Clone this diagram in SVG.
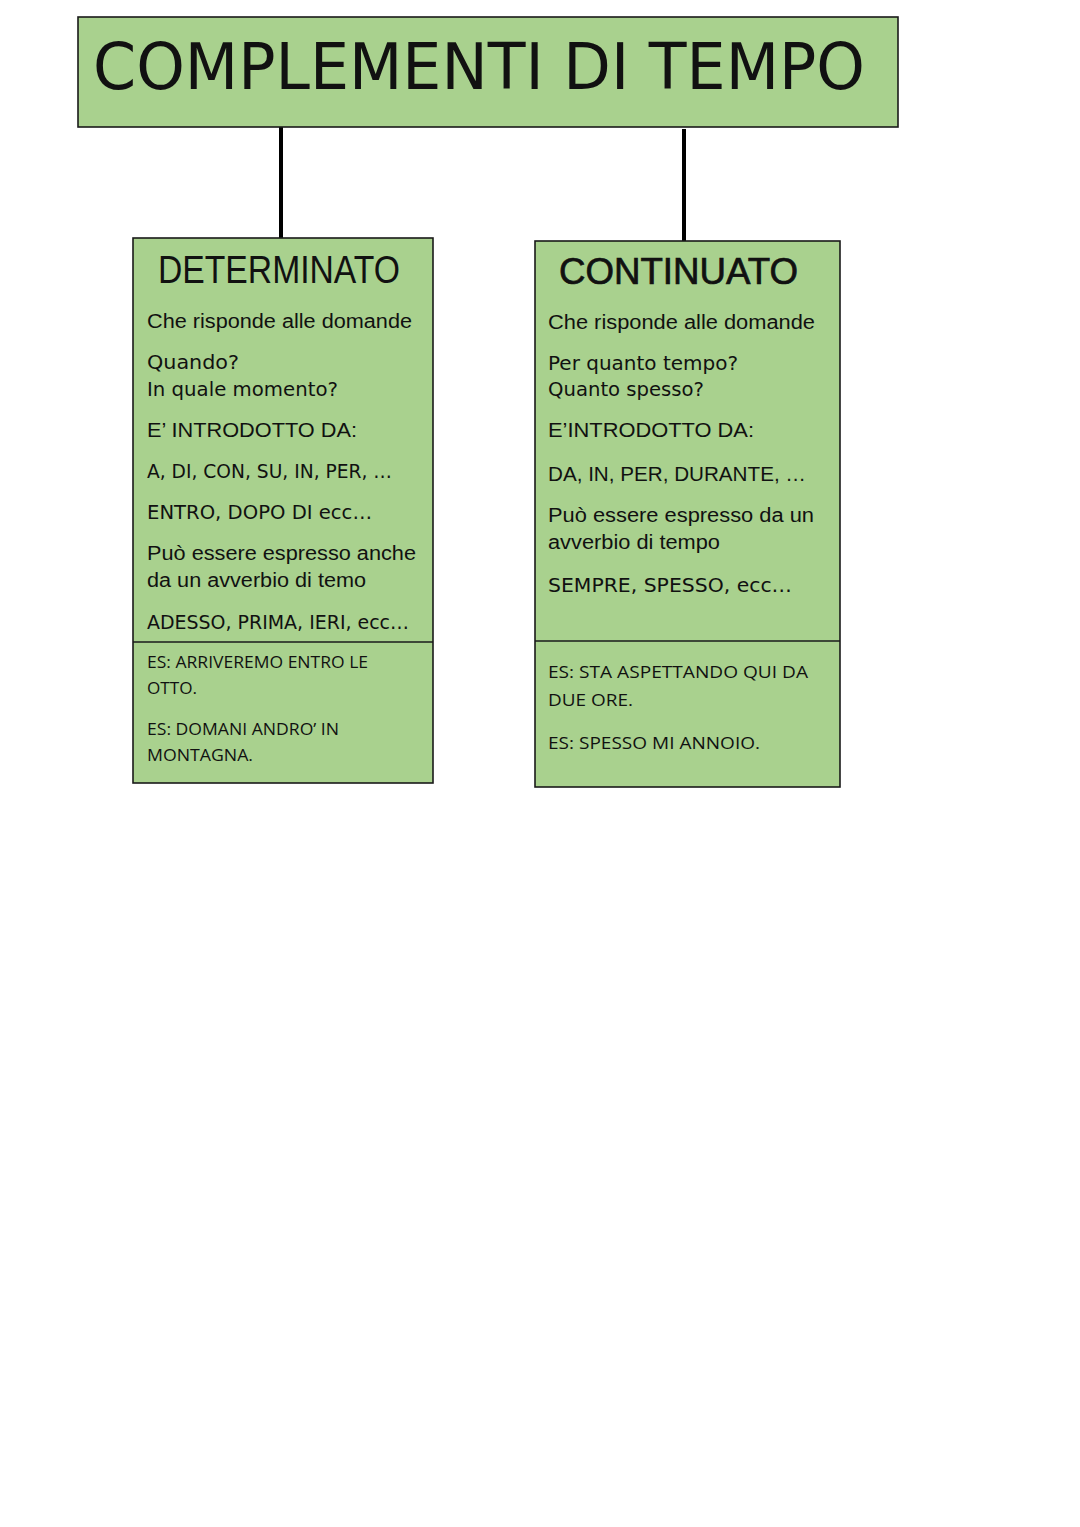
<svg xmlns="http://www.w3.org/2000/svg" width="1080" height="1527" viewBox="0 0 1080 1527">
<style>
.box{fill:#a9d18e;stroke:#1a1a1a;stroke-width:1.6}
.div{stroke:#1a1a1a;stroke-width:1.6}
.conn{stroke:#000;stroke-width:4;fill:none}
text{fill:#111}
.title{font-size:64px;font-family:"DejaVu Sans",sans-serif}
.hd1{font-size:38px;font-family:"Liberation Sans",Arial,sans-serif}
.hd2{font-size:36px;font-family:"Liberation Sans",Arial,sans-serif;stroke:#111;stroke-width:0.7}
.t{font-size:20px;font-family:"Liberation Sans",Arial,sans-serif}
.g{font-size:19px;font-family:"DejaVu Sans",sans-serif}
.ex{font-size:16px;font-family:"Open Sans","Liberation Sans",sans-serif}
.ex2{font-size:17px;font-family:"Open Sans","Liberation Sans",sans-serif}
</style>
<rect width="1080" height="1527" fill="#fff"/>
<g id="connectors">
<line class="conn" x1="281" y1="127" x2="281" y2="238"/>
<line class="conn" x1="684" y1="129" x2="684" y2="241"/>
</g>
<g id="title">
<rect class="box" x="78" y="17" width="820" height="110"/>
<text class="title" x="93" y="89" textLength="772" lengthAdjust="spacingAndGlyphs">COMPLEMENTI DI TEMPO</text>
</g>
<g id="determinato">
<rect class="box" x="133" y="238" width="300" height="545"/>
<line class="div" x1="133" y1="642" x2="433" y2="642"/>
<text class="hd1" x="158" y="283" textLength="242" lengthAdjust="spacingAndGlyphs">DETERMINATO</text>
<text class="t" x="147" y="328" textLength="265" lengthAdjust="spacingAndGlyphs">Che risponde alle domande</text>
<text class="g" x="147" y="369" textLength="92" lengthAdjust="spacingAndGlyphs">Quando?</text>
<text class="g" x="147" y="396" textLength="191" lengthAdjust="spacingAndGlyphs">In quale momento?</text>
<text class="t" x="147" y="437" textLength="210" lengthAdjust="spacingAndGlyphs">E’ INTRODOTTO DA:</text>
<text class="g" x="147" y="478" textLength="245" lengthAdjust="spacingAndGlyphs">A, DI, CON, SU, IN, PER, …</text>
<text class="g" x="147" y="519" textLength="225" lengthAdjust="spacingAndGlyphs">ENTRO, DOPO DI ecc…</text>
<text class="t" x="147" y="560" textLength="269" lengthAdjust="spacingAndGlyphs">Può essere espresso anche</text>
<text class="t" x="147" y="587" textLength="219" lengthAdjust="spacingAndGlyphs">da un avverbio di temo</text>
<text class="g" x="147" y="629" textLength="262" lengthAdjust="spacingAndGlyphs">ADESSO, PRIMA, IERI, ecc…</text>
<text class="ex" x="147" y="668" textLength="221" lengthAdjust="spacingAndGlyphs">ES: ARRIVEREMO ENTRO LE</text>
<text class="ex" x="147" y="694" textLength="50" lengthAdjust="spacingAndGlyphs">OTTO.</text>
<text class="ex" x="147" y="735" textLength="192" lengthAdjust="spacingAndGlyphs">ES: DOMANI ANDRO’ IN</text>
<text class="ex" x="147" y="761" textLength="106" lengthAdjust="spacingAndGlyphs">MONTAGNA.</text>
</g>
<g id="continuato">
<rect class="box" x="535" y="241" width="305" height="546"/>
<line class="div" x1="535" y1="641" x2="840" y2="641"/>
<text class="hd2" x="559" y="284" textLength="239" lengthAdjust="spacingAndGlyphs">CONTINUATO</text>
<text class="t" x="548" y="329" textLength="267" lengthAdjust="spacingAndGlyphs">Che risponde alle domande</text>
<text class="g" x="548" y="370" textLength="190" lengthAdjust="spacingAndGlyphs">Per quanto tempo?</text>
<text class="g" x="548" y="396" textLength="156" lengthAdjust="spacingAndGlyphs">Quanto spesso?</text>
<text class="t" x="548" y="437" textLength="206" lengthAdjust="spacingAndGlyphs">E’INTRODOTTO DA:</text>
<text class="t" x="548" y="481" textLength="258" lengthAdjust="spacingAndGlyphs">DA, IN, PER, DURANTE, …</text>
<text class="t" x="548" y="522" textLength="266" lengthAdjust="spacingAndGlyphs">Può essere espresso da un</text>
<text class="t" x="548" y="549" textLength="172" lengthAdjust="spacingAndGlyphs">avverbio di tempo</text>
<text class="g" x="548" y="592" textLength="244" lengthAdjust="spacingAndGlyphs">SEMPRE, SPESSO, ecc…</text>
<text class="ex2" x="548" y="678" textLength="260" lengthAdjust="spacingAndGlyphs">ES: STA ASPETTANDO QUI DA</text>
<text class="ex2" x="548" y="706" textLength="85" lengthAdjust="spacingAndGlyphs">DUE ORE.</text>
<text class="ex2" x="548" y="749" textLength="212" lengthAdjust="spacingAndGlyphs">ES: SPESSO MI ANNOIO.</text>
</g>
</svg>
